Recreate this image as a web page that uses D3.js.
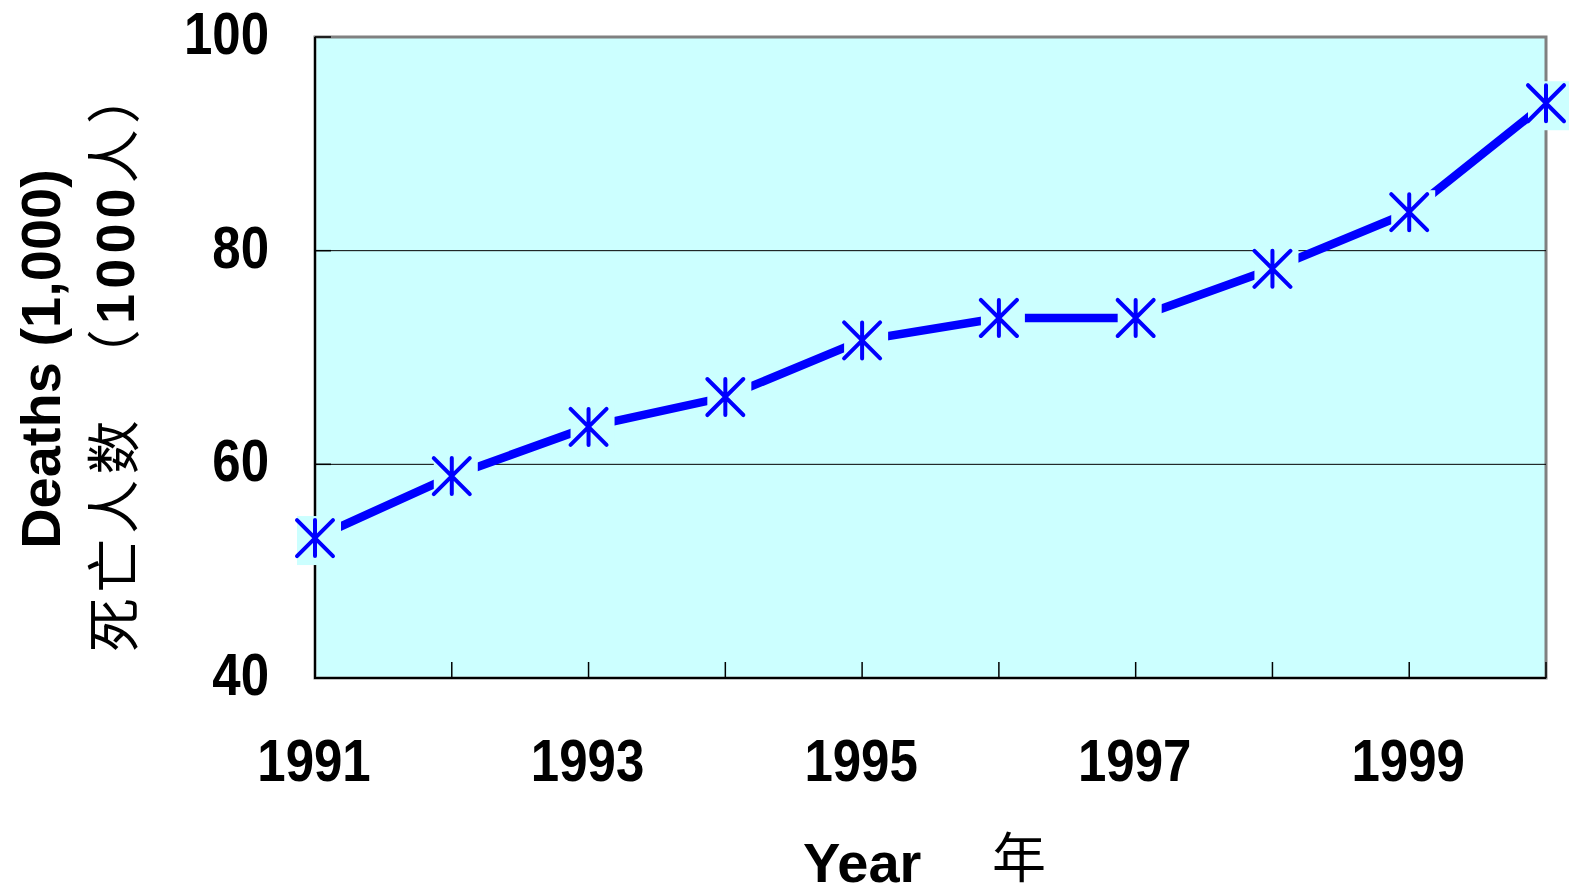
<!DOCTYPE html>
<html>
<head>
<meta charset="utf-8">
<script src="https://cdn.jsdelivr.net/npm/d3@7"></script>
<style>
  body { margin: 0; background: #fff; }
  svg { display: block; }
  .num { font-family: "Liberation Sans", Arial, sans-serif; font-weight: bold; fill: #000; }
  .cjk { font-family: "Noto Sans CJK SC", sans-serif; font-weight: normal; fill: #000; }
</style>
</head>
<body>
<script>
// ---- data ----
const years = [1991, 1992, 1993, 1994, 1995, 1996, 1997, 1998, 1999, 2000];
const deaths = [53.1, 58.9, 63.5, 66.3, 71.6, 73.7, 73.7, 78.3, 83.6, 93.8];
const xTickLabels = [1991, 1993, 1995, 1997, 1999];
const yTicks = [40, 60, 80, 100];
const xTitle = "Year";
const xTitleCJK = "年";
const yTitle = "Deaths (1,000)";

const W = 1569, H = 894;
const L = 315, R = 1546, T = 37, B = 678;

const svg = d3.select("body").append("svg").attr("width", W).attr("height", H);

const x = d3.scalePoint().domain(years).range([L, R]);
const y = d3.scaleLinear().domain([40, 100]).range([B, T]);

// plot background
svg.append("rect").attr("x", L).attr("y", T).attr("width", R - L).attr("height", B - T)
  .attr("fill", "#CCFFFF").attr("stroke", "#808080").attr("stroke-width", 3);

// gridlines
svg.append("g").selectAll("line").data(yTicks.filter(d => d > 40 && d < 100)).join("line")
  .attr("x1", L).attr("x2", R).attr("y1", d => y(d)).attr("y2", d => y(d))
  .attr("stroke", "#000").attr("stroke-width", 1);

// axes lines (black, left & bottom)
svg.append("line").attr("x1", L).attr("x2", L).attr("y1", T).attr("y2", B + 1)
  .attr("stroke", "#000").attr("stroke-width", 2);
svg.append("line").attr("x1", L - 1).attr("x2", R).attr("y1", B).attr("y2", B)
  .attr("stroke", "#000").attr("stroke-width", 2);

// inward ticks
svg.append("g").selectAll("line").data(years.slice(1)).join("line")
  .attr("x1", d => x(d)).attr("x2", d => x(d)).attr("y1", B).attr("y2", B - 16)
  .attr("stroke", "#000").attr("stroke-width", 1.5);
svg.append("g").selectAll("line").data(yTicks).join("line")
  .attr("x1", L).attr("x2", L + 16).attr("y1", d => y(d)).attr("y2", d => y(d))
  .attr("stroke", "#000").attr("stroke-width", 1.5);

// y tick labels
svg.append("g").selectAll("text").data(yTicks).join("text")
  .attr("class", "num")
  .attr("transform", d => `translate(269,${y(d) + 17}) scale(0.85,1)`)
  .attr("text-anchor", "end").attr("font-size", 60)
  .text(d => d);

// x tick labels
svg.append("g").selectAll("text").data(xTickLabels).join("text")
  .attr("class", "num")
  .attr("transform", d => `translate(${x(d) - 1},781) scale(0.85,1)`)
  .attr("text-anchor", "middle").attr("font-size", 60)
  .text(d => d);

// line
const line = d3.line().x((d, i) => x(years[i])).y(d => y(d));
svg.append("path").datum(deaths).attr("d", line)
  .attr("fill", "none").attr("stroke", "#0000FF").attr("stroke-width", 8.5)
  .attr("stroke-linejoin", "miter");

// marker backgrounds
svg.append("g").selectAll("rect").data(deaths).join("rect")
  .attr("x", (d, i) => x(years[i]) - 18).attr("y", d => y(d) - 22)
  .attr("width", 44).attr("height", 49).attr("fill", "#CCFFFF");

// asterisk markers
const mk = svg.append("g").attr("stroke", "#0000FF").attr("stroke-width", 4)
  .attr("stroke-linecap", "round").attr("fill", "none");
mk.selectAll("path").data(deaths).join("path")
  .attr("d", (d, i) => {
    const cx = x(years[i]), cy = y(d), r = 18;
    return `M${cx},${cy - r}L${cx},${cy + r}` +
           `M${cx - r},${cy - r}L${cx + r},${cy + r}` +
           `M${cx - r},${cy + r}L${cx + r},${cy - r}`;
  });

// x axis title
svg.append("text").attr("class", "num").attr("x", 803).attr("y", 882)
  .attr("font-size", 56).text(xTitle);
svg.append("text").attr("class", "cjk").attr("x", 992).attr("y", 878)
  .attr("font-size", 54).text(xTitleCJK);

// y axis title (English)
svg.append("text").attr("class", "num")
  .attr("transform", "translate(60,359) rotate(-90)")
  .attr("text-anchor", "middle").attr("font-size", 56)
  .text(yTitle);

// y axis title (Chinese)
const yc = svg.append("text").attr("class", "cjk")
  .attr("transform", "translate(134,652) rotate(-90)")
  .attr("text-anchor", "start").attr("font-size", 54)
  .attr("textLength", 582).attr("lengthAdjust", "spacing");
yc.append("tspan").text("死亡人数　（");
yc.append("tspan").attr("class", "num").text("1000");
yc.append("tspan").text("人）");
</script>
</body>
</html>
